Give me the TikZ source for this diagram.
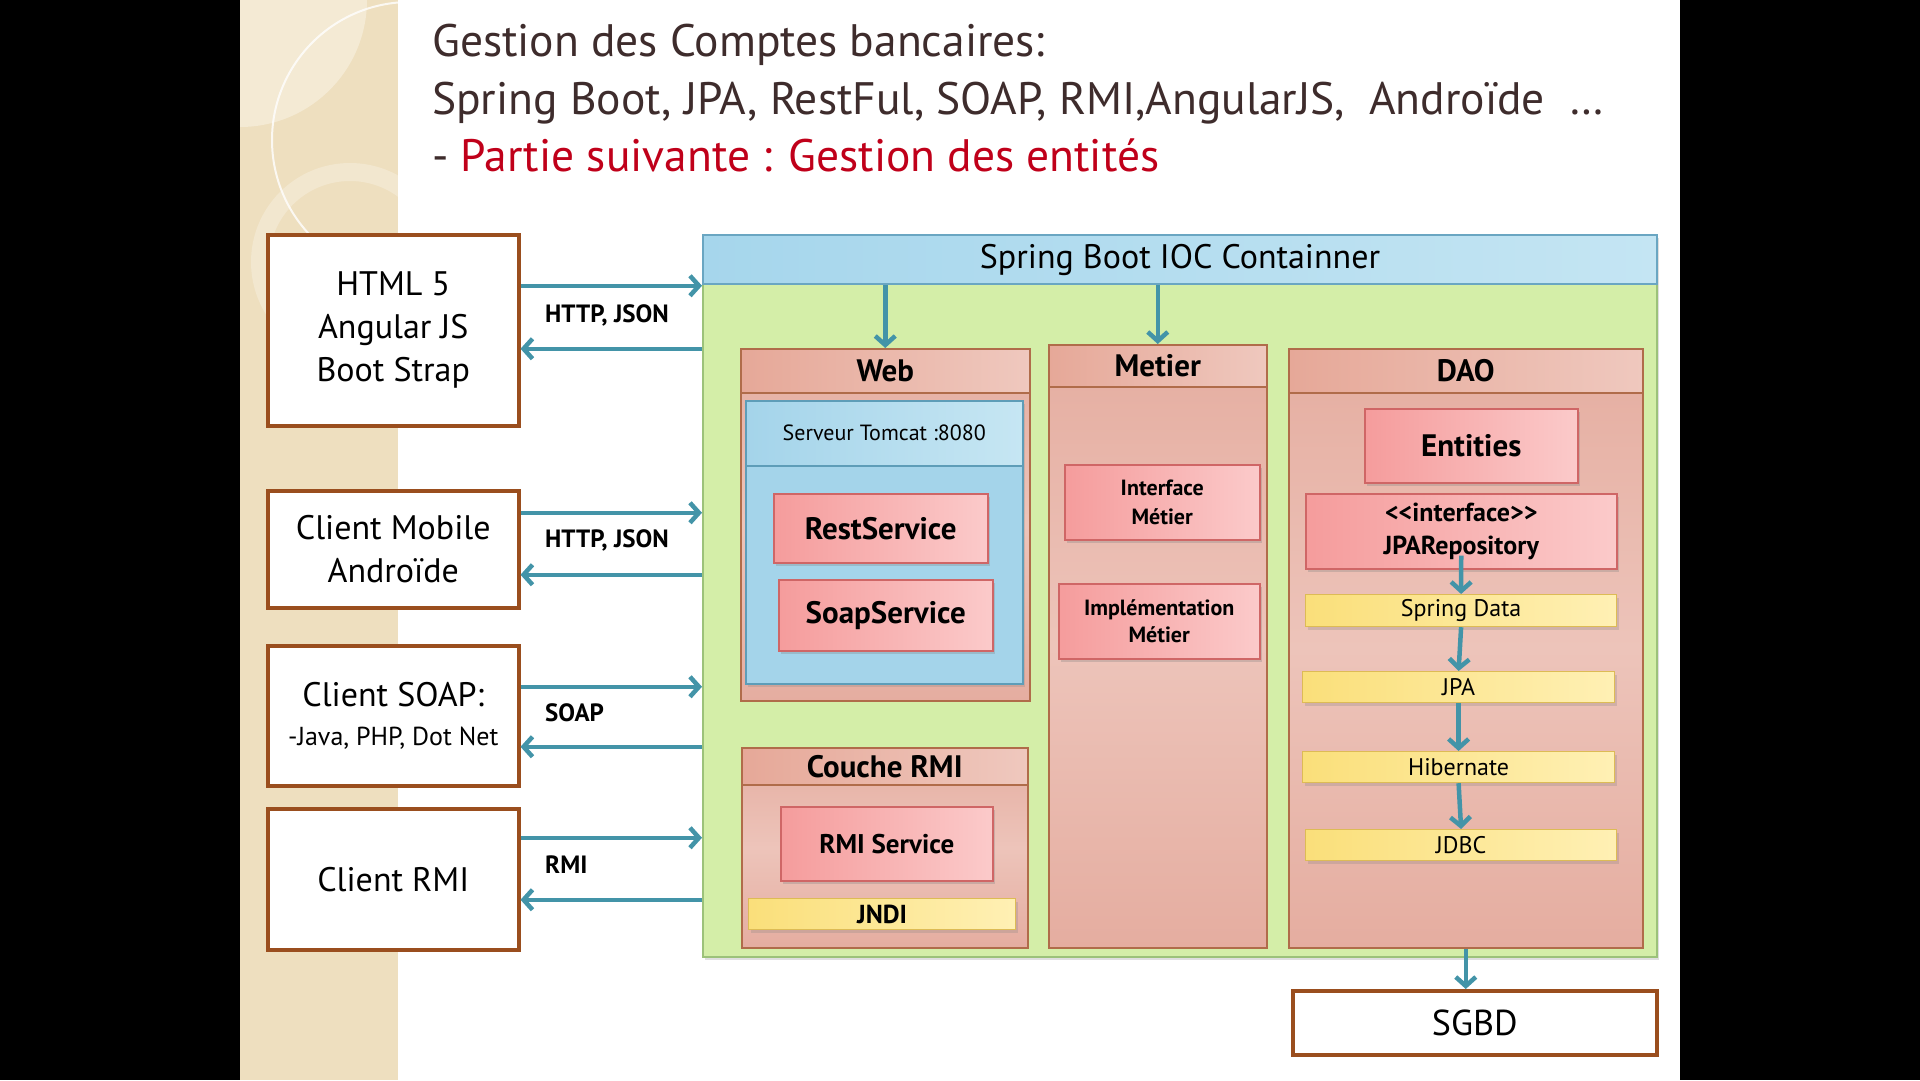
\documentclass[tikz,border=0pt]{standalone}
\usepackage{fontspec}
\usepackage{graphicx}
\setmainfont{PT Sans}
\usetikzlibrary{arrows.meta,shadows}
\definecolor{bgblack}{HTML}{000000}
\definecolor{beige}{HTML}{EEDFBF}
\definecolor{beigelight}{HTML}{F4EAD4}
\definecolor{titlecol}{HTML}{3E2C2C}
\definecolor{titlered}{HTML}{C0001A}
\definecolor{boxbrown}{HTML}{9A4E1E}
\definecolor{arrowteal}{HTML}{4394A8}
\definecolor{contgreen}{HTML}{D4EEA8}
\definecolor{contborder}{HTML}{9CC27A}
\definecolor{hdrblueA}{HTML}{A6D6EC}
\definecolor{hdrblueB}{HTML}{C4E5F3}
\definecolor{hdrborder}{HTML}{6AA6C2}
\definecolor{colA}{HTML}{E5ADA0}
\definecolor{colB}{HTML}{EDC4BA}
\definecolor{colborder}{HTML}{B06C4A}
\definecolor{colhA}{HTML}{E6A898}
\definecolor{colhB}{HTML}{EFC8BE}
\definecolor{tomA}{HTML}{A4D4EA}
\definecolor{tomB}{HTML}{C6E6F3}
\definecolor{tomborder}{HTML}{5E9DB8}
\definecolor{pinkL}{HTML}{F59C9C}
\definecolor{pinkR}{HTML}{FBCACA}
\definecolor{pinkborder}{HTML}{CF6666}
\definecolor{yelL}{HTML}{FADF7A}
\definecolor{yelR}{HTML}{FFF0B4}
\definecolor{yelborder}{HTML}{DDBB55}
\tikzset{
  client/.style={draw=boxbrown, line width=3.5pt, fill=white, inner sep=0pt, align=center,
    anchor=north west, font=\fontsize{34}{43}\selectfont},
  arr/.style={draw=arrowteal, line width=4.5pt, -{Straight Barb[length=9pt,width=20pt]}},
  lbl/.style={anchor=west, inner sep=0pt, font=\fontsize{25}{28}\selectfont\bfseries},
  colbody/.style={draw=colborder, line width=1.5pt, top color=colA, bottom color=colA, middle color=colB,
    anchor=north west, inner sep=0pt},
  colhead/.style={draw=colborder, line width=1.5pt, left color=colhA, right color=colhB,
    anchor=north west, inner sep=0pt, font=\fontsize{31}{34}\selectfont\bfseries},
  pinkbox/.style={draw=pinkborder, line width=1.5pt, left color=pinkL, right color=pinkR,
    drop shadow={shadow xshift=2pt, shadow yshift=-3pt, opacity=.3},
    anchor=north west, inner sep=0pt, align=center},
  yelbox/.style={draw=yelborder, line width=1.2pt, left color=yelL, right color=yelR,
    drop shadow={shadow xshift=2pt, shadow yshift=-3pt, opacity=.25},
    anchor=north west, inner sep=0pt, font=\fontsize{24}{28}\selectfont},
  titletxt/.style={anchor=base west, inner sep=0pt, text=titlecol, font=\fontsize{45.5}{50}\selectfont}
}
\begin{document}
\begin{tikzpicture}[x=1pt,y=-1pt]
\useasboundingbox (0,0) rectangle (1920,1080);
\fill[bgblack] (0,0) rectangle (1920,1080);
\fill[white] (240,0) rectangle (1680,1080);
% decorative band
\begin{scope}
\clip (240,0) rectangle (398,1080);
\fill[beige] (240,0) rectangle (398,1080);
\fill[beigelight] (240,0) circle (127);
\draw[white, line width=2pt, opacity=.8] (410,140) circle (138);
\draw[white, line width=18pt, opacity=.25] (350,262) circle (90);
\end{scope}
% title
\node[titletxt] (t1) at (432,56) {Gestion des Comptes bancaires:};
\node[titletxt] (t2) at (432,114) {Spring Boot, JPA, RestFul, SOAP, RMI,AngularJS,\ \ Androïde\ \ …};
\node[titletxt] (t3) at (432,171) {- \textcolor{titlered}{Partie suivante : Gestion des entités}};
% clients
\node[client, minimum width=251pt, minimum height=191pt] (html) at (266,233) {HTML 5\\Angular JS\\Boot Strap};
\node[client, minimum width=251pt, minimum height=117pt] (mobile) at (266,489) {Client Mobile\\Androïde};
\node[client, minimum width=251pt, minimum height=140pt] (soap) at (266,644) {Client SOAP:\\[-4pt]{\fontsize{26}{30}\selectfont -Java, PHP, Dot Net}};
\node[client, minimum width=251pt, minimum height=141pt] (rmi) at (266,807) {Client RMI};
% container
\node[draw=contborder, line width=2pt, fill=contgreen, anchor=north west, inner sep=0pt,
  minimum width=954pt, minimum height=722pt,
  drop shadow={shadow xshift=2pt, shadow yshift=-3pt, opacity=.25}] (cont) at (702,234) {};
\node[draw=hdrborder, line width=2pt, left color=hdrblueA, right color=hdrblueB, anchor=north west, inner sep=0pt,
  minimum width=954pt, minimum height=49pt, font=\fontsize{34}{40}\selectfont] (hdr) at (702,234) {Spring Boot IOC Containner};
% Web column
\node[colbody, minimum width=289pt, minimum height=352pt] (web) at (740,348) {};
\node[colhead, minimum width=289pt, minimum height=44pt] (webh) at (740,348) {Web};
\node[draw=tomborder, line width=1.5pt, fill=tomA, anchor=north west, inner sep=0pt,
  minimum width=277pt, minimum height=283pt,
  drop shadow={shadow xshift=2pt, shadow yshift=-3pt, opacity=.25}] (tomcat) at (745,400) {};
\node[draw=tomborder, line width=1.5pt, left color=tomA, right color=tomB, anchor=north west, inner sep=0pt,
  minimum width=277pt, minimum height=65pt, font=\fontsize{22}{26}\selectfont] (tomh) at (745,400) {Serveur Tomcat :8080};
\node[pinkbox, minimum width=214pt, minimum height=69pt, font=\fontsize{31}{36}\selectfont\bfseries] (rest) at (773,493) {RestService};
\node[pinkbox, minimum width=214pt, minimum height=71pt, font=\fontsize{31}{36}\selectfont\bfseries] (soapsrv) at (778,579) {SoapService};
% Couche RMI
\node[colbody, minimum width=286pt, minimum height=200pt] (crmi) at (741,747) {};
\node[colhead, minimum width=286pt, minimum height=37pt] (crmih) at (741,747) {Couche RMI};
\node[pinkbox, minimum width=212pt, minimum height=74pt, font=\fontsize{27}{32}\selectfont\bfseries] (rmisrv) at (780,806) {RMI Service};
\node[yelbox, minimum width=267pt, minimum height=31pt, font=\fontsize{26}{30}\selectfont\bfseries] (jndi) at (748,898) {JNDI};
% Metier
\node[colbody, minimum width=218pt, minimum height=603pt] (metier) at (1048,344) {};
\node[colhead, minimum width=218pt, minimum height=42pt] (metierh) at (1048,344) {Metier};
\node[pinkbox, minimum width=195pt, minimum height=75pt, font=\fontsize{22}{29}\selectfont\bfseries] (imet) at (1064,464) {Interface\\Métier};
\node[pinkbox, minimum width=201pt, minimum height=75pt, font=\fontsize{22}{27}\selectfont\bfseries] (implmet) at (1058,583) {Implémentation\\Métier};
% DAO
\node[colbody, minimum width=354pt, minimum height=599pt] (dao) at (1288,348) {};
\node[colhead, minimum width=354pt, minimum height=44pt] (daoh) at (1288,348) {DAO};
\node[pinkbox, minimum width=213pt, minimum height=74pt, font=\fontsize{31}{36}\selectfont\bfseries] (ent) at (1364,408) {Entities};
\node[pinkbox, minimum width=311pt, minimum height=75pt, font=\fontsize{26}{33}\selectfont\bfseries] (jpar) at (1305,493) {<{}<interface>{}>\\JPARepository};
\node[yelbox, minimum width=311pt, minimum height=32pt] (sdata) at (1305,594) {Spring Data};
\node[yelbox, minimum width=312pt, minimum height=31pt] (jpa) at (1302,671) {JPA};
\node[yelbox, minimum width=312pt, minimum height=31pt] (hib) at (1302,751) {Hibernate};
\node[yelbox, minimum width=311pt, minimum height=31pt] (jdbc) at (1305,829) {JDBC};
% SGBD
\node[client, minimum width=364pt, minimum height=64pt, font=\fontsize{36}{40}\selectfont] (sgbd) at (1291,989) {SGBD};
% client arrows
\coordinate (h1) at ([yshift=44.5pt]html.east);
\coordinate (h2) at ([yshift=-18.5pt]html.east);
\coordinate (m1) at ([yshift=36.5pt]mobile.east);
\coordinate (m2) at ([yshift=-25.5pt]mobile.east);
\coordinate (s1) at ([yshift=29pt]soap.east);
\coordinate (s2) at ([yshift=-31pt]soap.east);
\coordinate (r1) at ([yshift=41.5pt]rmi.east);
\coordinate (r2) at ([yshift=-20.5pt]rmi.east);
\draw[arr] (h1) -- (h1 -| cont.west);
\draw[arr] (h2 -| cont.west) -- (h2);
\draw[arr] (m1) -- (m1 -| cont.west);
\draw[arr] (m2 -| cont.west) -- (m2);
\draw[arr] (s1) -- (s1 -| cont.west);
\draw[arr] (s2 -| cont.west) -- (s2);
\draw[arr] (r1) -- (r1 -| cont.west);
\draw[arr] (r2 -| cont.west) -- (r2);
\node[lbl] (l1) at (545,315) {HTTP, JSON};
\node[lbl] (l2) at (545,540) {HTTP, JSON};
\node[lbl] (l3) at (545,713) {SOAP};
\node[lbl] (l4) at (545,865) {RMI};
% inner arrows
\draw[arr] (webh.north |- hdr.south) -- (webh.north);
\draw[arr] (metierh.north |- hdr.south) -- (metierh.north);
\draw[arr] ([yshift=14pt]jpar.south) -- (sdata.north);
\draw[arr] (sdata.south) -- (jpa.north);
\draw[arr] (jpa.south) -- (hib.north);
\draw[arr] (hib.south) -- (jdbc.north);
\draw[arr] (dao.south) -- (dao.south |- sgbd.north);
\end{tikzpicture}
\end{document}
